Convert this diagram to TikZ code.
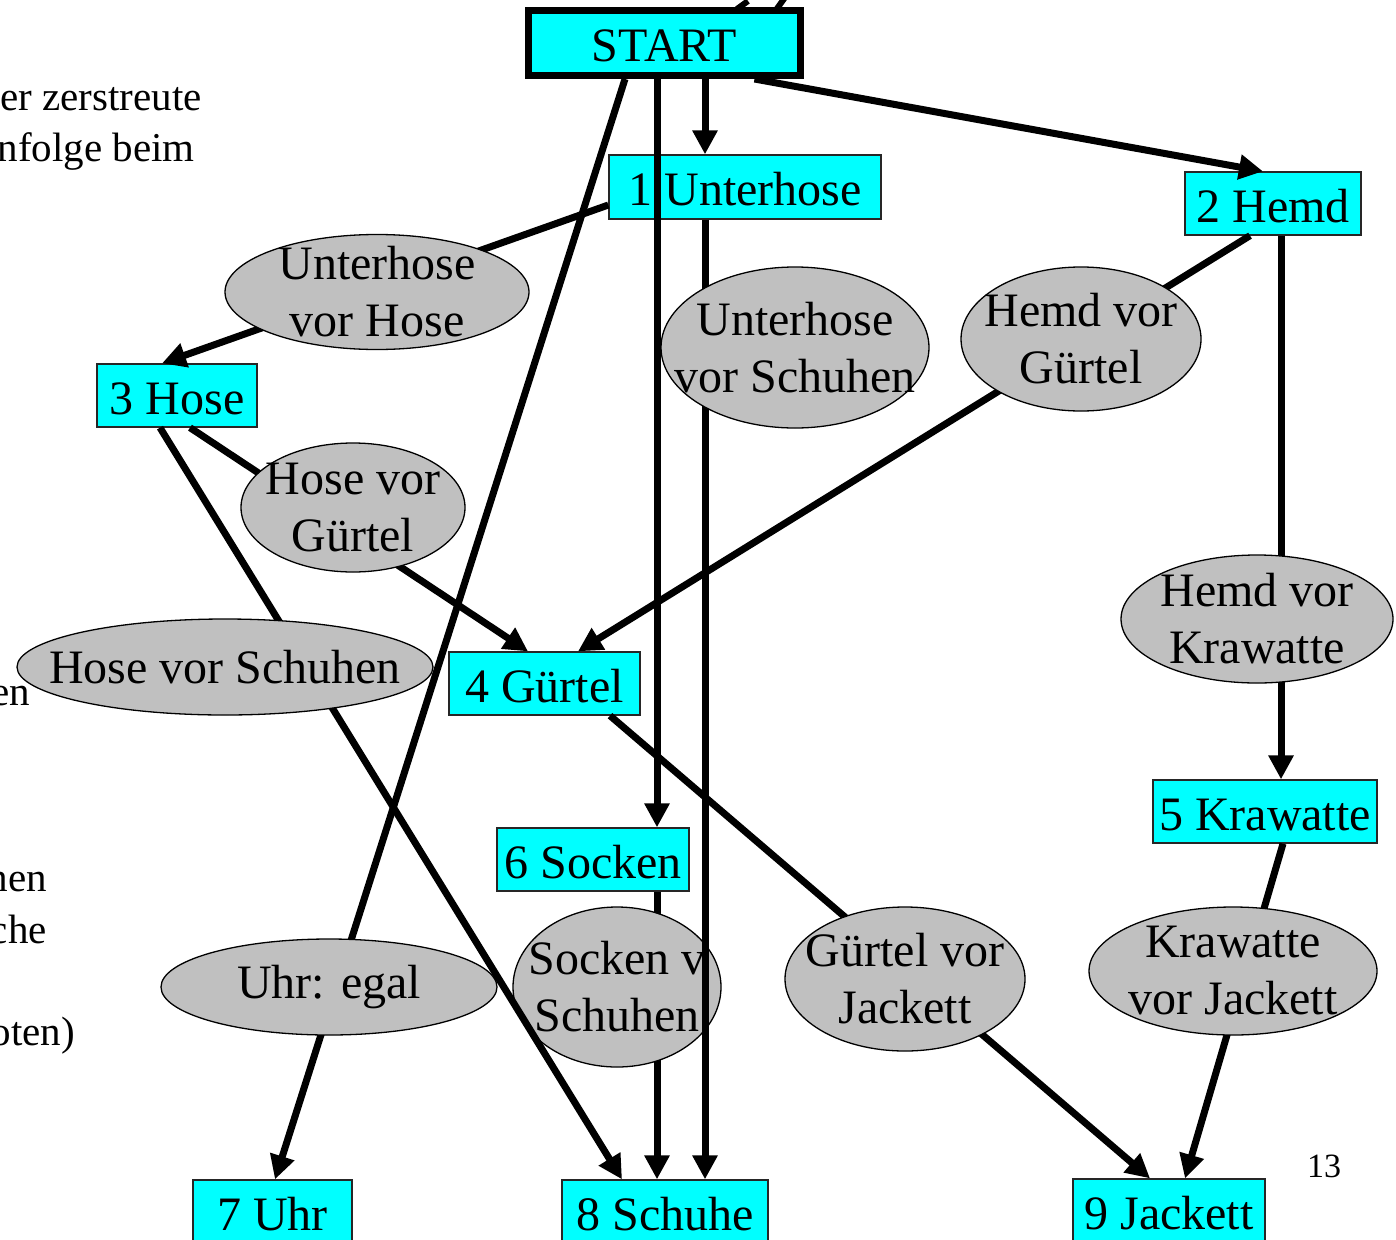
\documentclass[tikz,border=0pt]{standalone}
\usepackage{fontspec}
\setmainfont{Liberation Serif}
\usetikzlibrary{arrows.meta,shapes.geometric}
\definecolor{boxcyan}{HTML}{00FFFF}
\definecolor{lblgray}{HTML}{C0C0C0}
\begin{document}
\begin{tikzpicture}[x=1pt,y=-1pt,
  every node/.style={font=\fontsize{48}{57}\selectfont},
  box/.style={draw=black!85, line width=1.3pt, fill=boxcyan, inner sep=0pt, minimum height=63pt, text height=37pt, text depth=0pt},
  lab/.style={ellipse, draw=black, line width=1.3pt, fill=lblgray, inner sep=0pt},
  ltxt/.style={align=center, inner sep=0pt},
  conn/.style={line width=7pt, -{Triangle[length=24pt,width=24pt]}},
  frag/.style={font=\fontsize{41}{48}\selectfont, anchor=base east, inner sep=0pt},
]
\clip (0,0) rectangle (1396,1239);
\fill[white] (0,0) rectangle (1396,1239);

% text fragments at the left edge
\node[frag] (f1) at (202,110) {er zerstreute};
\node[frag] (f2) at (195,161) {nfolge beim};
\node[frag] (f3) at (30,705) {en};
\node[frag] (f4) at (47,891) {hen};
\node[frag] (f5) at (47,943) {che};
\node[frag] (f6) at (75,1045) {oten)};
\node[font=\fontsize{34}{40}\selectfont, anchor=base, inner sep=0pt] (pg) at (1324,1177) {13};

% fragment of a connector leaving the top edge
\coordinate (c1a) at (737,9);
\coordinate (c1b) at (748,1);
\coordinate (c2a) at (776,10);
\coordinate (c2b) at (786,-4);
\draw[line width=6pt] (c1a) -- (c1b);
\draw[line width=6pt] (c2a) -- (c2b);

% boxes
\node[box, draw=black, line width=7pt, minimum width=272pt, minimum height=65pt] (start) at (664.5,43) {START};
\node[box, minimum width=272pt, minimum height=64pt] (n1) at (745,187) {1 Unterhose};
\node[box, minimum width=176pt] (n2) at (1273,203.5) {2 Hemd};
\node[box, minimum width=160pt] (n3) at (177,395.5) {3 Hose};
\node[box, minimum width=191pt] (n4) at (544.5,683.5) {4 Gürtel};
\node[box, minimum width=224pt] (n5) at (1265,811.5) {5 Krawatte};
\node[box, minimum width=192pt] (n6) at (593,859.5) {6 Socken};
\node[box, minimum width=159pt] (n7) at (272.5,1211.5) {7 Uhr};
\node[box, minimum width=206pt] (n8) at (665,1211.5) {8 Schuhe};
\node[box, minimum width=192pt] (n9) at (1169,1210.5) {9 Jackett};

% connectors
\draw[conn] ([xshift=40.5pt]start.south) -- ([xshift=-40pt]n1.north);
\draw[conn] ([xshift=90pt]start.south) -- ([xshift=-10pt]n2.north);
\draw[conn] ([xshift=-7.5pt]start.south) -- ([xshift=64pt]n6.north);
\draw[conn] ([xshift=-39.5pt]start.south) -- ([xshift=2.5pt]n7.north);
\draw[conn] ([yshift=-18pt]n1.west) -- ([xshift=-15pt]n3.north);
\draw[conn] ([xshift=-23pt]n2.south) -- ([xshift=33.5pt]n4.north);
\draw[conn] ([xshift=8pt]n2.south) -- ([xshift=16pt]n5.north);
\draw[conn] ([xshift=13pt]n3.south) -- ([xshift=-16.5pt]n4.north);
\draw[conn] ([xshift=65.5pt]n4.south) -- ([xshift=-19pt]n9.north);
\draw[conn] ([xshift=18pt]n5.south) -- ([xshift=16pt]n9.north);
\draw[conn] ([xshift=64pt]n6.south) -- ([xshift=-8pt]n8.north);

\node[lab, minimum width=208pt, minimum height=160pt] (l7) at (617,987) {};
\node[ltxt] (t7) at (l7) {Socken v\\Schuhen};

\draw[conn] ([xshift=-40pt]n1.south) -- ([xshift=40pt]n8.north);
\draw[conn] ([xshift=-17pt]n3.south) -- ([xshift=-43pt]n8.north);

% labels
\node[lab, minimum width=304pt, minimum height=115pt] (l1) at (377,292) {};
\node[ltxt] (t1) at (l1) {Unterhose\\vor Hose};
\node[lab, minimum width=268pt, minimum height=161pt] (l2) at (795,347.5) {};
\node[ltxt] (t2) at (l2) {Unterhose\\vor Schuhen};
\node[lab, minimum width=240pt, minimum height=144pt] (l3) at (1081,339) {};
\node[ltxt] (t3) at (l3) {Hemd vor\\Gürtel};
\node[lab, minimum width=224pt, minimum height=129pt] (l4) at (353,507.5) {};
\node[ltxt] (t4) at (l4) {Hose vor\\Gürtel};
\node[lab, minimum width=416pt, minimum height=96pt] (l5) at (225,667) {};
\node[ltxt] (t5) at (l5) {Hose vor Schuhen};
\node[lab, minimum width=272pt, minimum height=128pt] (l6) at (1257,619) {};
\node[ltxt] (t6) at (l6) {Hemd vor\\Krawatte};
\node[lab, minimum width=240pt, minimum height=144pt] (l8) at (905,979) {};
\node[ltxt] (t8) at (l8) {Gürtel vor\\Jackett};
\node[lab, minimum width=288pt, minimum height=128pt] (l9) at (1233,971) {};
\node[ltxt] (t9) at (l9) {Krawatte\\vor Jackett};
\node[lab, minimum width=336pt, minimum height=96pt] (l10) at (329,987) {};
\node[ltxt] (t10) at (l10) {Uhr: egal};
\end{tikzpicture}
\end{document}
